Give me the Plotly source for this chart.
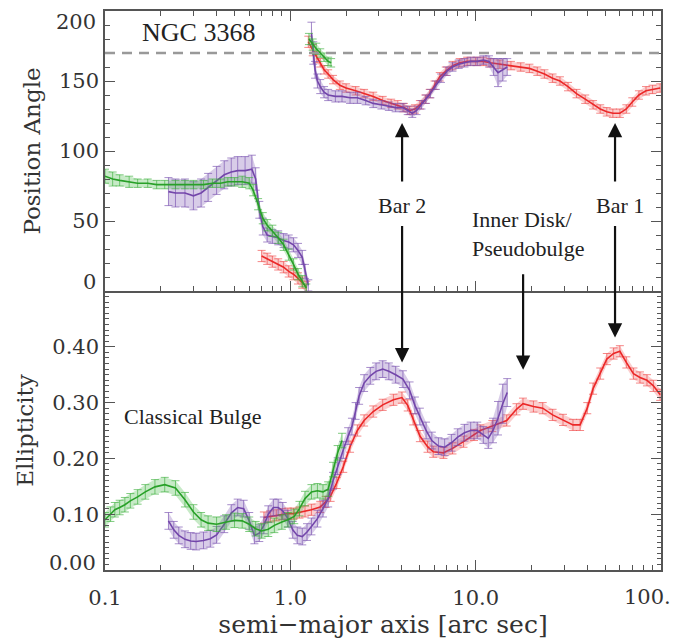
import plotly.graph_objects as go

# ---------------- DATA ----------------
# Position angle, green series (inner part, before the 0/180 wrap)
green_pa_a_r = [0.100, 0.110, 0.120, 0.135, 0.150, 0.17, 0.19, 0.21, 0.24, 0.27, 0.30, 0.34, 0.38,
                0.42, 0.46, 0.50, 0.55, 0.60, 0.63, 0.67, 0.71, 0.75, 0.80, 0.86, 0.92, 0.98,
                1.04, 1.10, 1.16, 1.22]
green_pa_a = [82, 80, 79, 78, 77, 77, 76, 76, 76, 76, 76, 76, 77,
              77, 78, 78, 78, 77, 72, 62, 52, 47, 43, 38, 33, 26,
              19, 12, 7, 2]
green_pa_a_err = [5, 5, 4, 4, 3, 3, 3, 3, 3, 3, 3, 3, 3,
                  3, 3, 3, 4, 4, 4, 4, 4, 4, 4, 4, 4, 4,
                  4, 4, 4, 3]
# green, after the wrap
green_pa_b_r = [1.26, 1.32, 1.38, 1.45, 1.52, 1.60, 1.66]
green_pa_b = [180, 176, 173, 170, 167, 164, 163]
green_pa_b_err = [4, 4, 4, 3, 3, 3, 3]

# purple, before the wrap
purple_pa_a_r = [0.22, 0.24, 0.27, 0.30, 0.33, 0.36, 0.40, 0.44, 0.48, 0.52, 0.57, 0.62,
                 0.65, 0.68, 0.71, 0.75, 0.80, 0.86, 0.92, 0.98, 1.04, 1.10, 1.16, 1.20, 1.25]
purple_pa_a = [71, 70, 70, 68, 70, 74, 79, 83, 85, 86, 86, 87,
               80, 58, 46, 40, 39, 38, 36, 35, 33, 29, 24, 14, 4]
purple_pa_a_err = [10, 10, 10, 10, 10, 10, 10, 10, 10, 10, 10, 10,
                   8, 6, 6, 5, 5, 5, 5, 5, 5, 5, 5, 5, 4]
# purple, after the wrap
purple_pa_b_r = [1.30, 1.33, 1.36, 1.40, 1.45, 1.52, 1.60, 1.75, 1.90, 2.10, 2.30, 2.55, 2.80,
                 3.10, 3.40, 3.70, 4.05, 4.30, 4.55, 4.80, 5.10, 5.40, 5.70, 6.10, 6.50,
                 7.00, 7.50, 8.10, 8.70, 9.40, 10.2, 11.0, 11.8, 12.5, 13.2, 14.0, 14.8]
purple_pa_b = [184, 170, 158, 150, 146, 142, 140, 139, 139, 138, 138, 136, 134,
               133, 132, 131, 131, 129, 127, 129, 133, 137, 141, 147, 152,
               157, 160, 162, 163, 164, 164, 165, 164, 160, 156, 158, 160]
purple_pa_b_err = [8, 8, 6, 5, 5, 4, 4, 4, 4, 4, 4, 3, 3,
                   3, 3, 3, 3, 3, 3, 3, 3, 3, 3, 3, 3,
                   3, 3, 3, 3, 3, 3, 3, 4, 6, 10, 8, 6]

# red, before the wrap
red_pa_a_r = [0.70, 0.75, 0.80, 0.86, 0.92, 0.98, 1.04, 1.10, 1.16, 1.22]
red_pa_a = [25, 23, 21, 19, 17, 14, 12, 9, 6, 3]
red_pa_a_err = [4, 4, 4, 4, 4, 4, 4, 4, 4, 4]
# red, after the wrap
red_pa_b_r = [1.25, 1.32, 1.39, 1.45, 1.52, 1.60, 1.70, 1.85, 2.00, 2.25, 2.50, 2.80, 3.15,
              3.50, 3.80, 4.10, 4.40, 4.70, 5.00, 5.35, 5.65, 6.00, 6.40, 6.90, 7.50,
              8.20, 9.00, 10.0, 11.0, 12.0, 13.5, 15.5, 17.5, 19.5, 21.5, 23.5, 26.0,
              28.5, 31.5, 35.0, 39.0, 43.0, 47.0, 51.0, 55.0, 60.0, 65.0, 70.0, 76.0,
              83.0, 90.0, 99.0]
red_pa_b = [178, 172, 167, 163, 158, 155, 151, 147, 145, 143, 141, 139, 136,
            134, 133, 131, 129, 130, 133, 137, 141, 147, 153, 157, 161,
            163, 164, 164, 164, 163, 162, 161, 160, 159, 157, 155, 152,
            150, 146, 141, 137, 133, 130, 128, 127, 127, 130, 135, 140,
            143, 144, 145]
red_pa_b_err = [4, 4, 4] + [3] * 49

# Ellipticity
green_ell_r = [0.100, 0.107, 0.113, 0.120, 0.128, 0.137, 0.150, 0.165, 0.186, 0.21, 0.24, 0.27,
               0.30, 0.33, 0.36, 0.40, 0.45, 0.50, 0.55, 0.60, 0.65, 0.70, 0.76, 0.82, 0.90,
               0.97, 1.05, 1.12, 1.20, 1.30, 1.40, 1.50, 1.60, 1.70, 1.80, 1.90]
green_ell = [0.090, 0.100, 0.108, 0.112, 0.117, 0.124, 0.131, 0.140, 0.149, 0.153, 0.147, 0.126,
             0.104, 0.090, 0.084, 0.082, 0.086, 0.089, 0.088, 0.082, 0.074, 0.070, 0.073, 0.080,
             0.086, 0.090, 0.096, 0.110, 0.128, 0.140, 0.142, 0.140, 0.145, 0.180, 0.210, 0.232]
green_ell_err = [0.013] * 36

purple_ell_r = [0.22, 0.235, 0.25, 0.27, 0.29, 0.31, 0.34, 0.37, 0.40, 0.44, 0.48, 0.52, 0.56,
                0.60, 0.64, 0.68, 0.72, 0.76, 0.81, 0.86, 0.91, 0.97, 1.03, 1.09, 1.16, 1.23,
                1.30, 1.40, 1.50, 1.60, 1.70, 1.80, 1.93, 2.05, 2.15, 2.25, 2.35, 2.50, 2.70,
                2.90, 3.15, 3.40, 3.70, 4.05, 4.40, 4.70, 5.00, 5.40, 5.80, 6.30, 6.80, 7.40,
                8.00, 8.70, 9.40, 10.2, 11.0, 11.7, 12.4, 13.2, 14.0, 14.8]
purple_ell = [0.088, 0.072, 0.062, 0.055, 0.052, 0.051, 0.053, 0.056, 0.063, 0.082, 0.102, 0.112,
              0.110, 0.088, 0.062, 0.066, 0.080, 0.100, 0.112, 0.112, 0.106, 0.092, 0.072, 0.062,
              0.060, 0.068, 0.078, 0.092, 0.110, 0.128, 0.160, 0.186, 0.215, 0.240, 0.257, 0.285,
              0.312, 0.335, 0.348, 0.356, 0.360, 0.356, 0.350, 0.342, 0.322, 0.295, 0.275, 0.250,
              0.232, 0.222, 0.220, 0.228, 0.238, 0.246, 0.250, 0.250, 0.242, 0.236, 0.250, 0.272,
              0.298, 0.318]
purple_ell_err = [0.015] * 56 + [0.015, 0.018, 0.022, 0.030, 0.035, 0.025]

red_ell_r = [0.72, 0.78, 0.84, 0.90, 0.97, 1.04, 1.12, 1.20, 1.30, 1.45, 1.55, 1.65, 1.78,
             1.93, 2.10, 2.30, 2.50, 2.80, 3.15, 3.60, 4.00, 4.30, 4.60, 5.00, 5.50, 5.90,
             6.70, 7.50, 8.60, 9.80, 10.6, 12.3, 14.7, 16.6, 18.0, 20.5, 23.0, 26.0, 29.6,
             33.5, 36.6, 40.0, 43.0, 47.0, 51.0, 55.5, 60.0, 65.0, 71.0, 77.0, 84.0, 91.0, 99.0]
red_ell = [0.094, 0.096, 0.098, 0.100, 0.101, 0.101, 0.103, 0.105, 0.108, 0.113, 0.122, 0.133,
           0.156, 0.185, 0.221, 0.250, 0.268, 0.284, 0.296, 0.305, 0.309, 0.295, 0.270, 0.240,
           0.221, 0.212, 0.210, 0.218, 0.230, 0.242, 0.250, 0.258, 0.268, 0.288, 0.298, 0.293,
           0.290, 0.278, 0.269, 0.260, 0.260, 0.290, 0.325, 0.352, 0.378, 0.388, 0.392, 0.372,
           0.352, 0.345, 0.340, 0.330, 0.314]
red_ell_err = [0.010] * 53

ref_pa = 170  # dashed reference position angle
x_ticks = [0.1, 1.0, 10.0, 100.0]
x_ticktext = ["0.1", "1.0", "10.0", ""]
pa_ticks = [0, 50, 100, 150, 200]
ell_ticks = [0.0, 0.1, 0.2, 0.3, 0.4, 0.5]

# ---------------- STYLE ----------------
COL = {
    "green": ("rgb(40,160,40)", "rgba(70,185,70,0.30)", "rgba(60,175,60,0.65)"),
    "purple": ("rgb(115,70,170)", "rgba(125,85,180,0.30)", "rgba(120,80,175,0.65)"),
    "red": ("rgb(235,40,40)", "rgba(240,80,80,0.28)", "rgba(240,70,70,0.65)"),
}
AXFONT = dict(family="DejaVu Serif", size=21, color="#333")
TXTFONT = dict(family="Liberation Serif, Times New Roman, serif", size=22, color="#222")

fig = go.Figure()


def add_series(r, v, e, key, xa, ya):
    line_c, band_c, bar_c = COL[key]
    hi = [a + b for a, b in zip(v, e)]
    lo = [a - b for a, b in zip(v, e)]
    fig.add_trace(go.Scatter(x=list(r) + list(r)[::-1], y=hi + lo[::-1], mode="lines",
                             fill="toself", fillcolor=band_c, line=dict(width=0),
                             hoverinfo="skip", showlegend=False, xaxis=xa, yaxis=ya))
    fig.add_trace(go.Scatter(x=r, y=v, mode="lines", line=dict(color=line_c, width=1.6),
                             error_y=dict(type="data", array=e, color=bar_c, thickness=1, width=4),
                             showlegend=False, xaxis=xa, yaxis=ya))


# top panel (position angle) on x2/y2
add_series(red_pa_a_r, red_pa_a, red_pa_a_err, "red", "x2", "y2")
add_series(red_pa_b_r, red_pa_b, red_pa_b_err, "red", "x2", "y2")
add_series(purple_pa_a_r, purple_pa_a, purple_pa_a_err, "purple", "x2", "y2")
add_series(purple_pa_b_r, purple_pa_b, purple_pa_b_err, "purple", "x2", "y2")
add_series(green_pa_a_r, green_pa_a, green_pa_a_err, "green", "x2", "y2")
add_series(green_pa_b_r, green_pa_b, green_pa_b_err, "green", "x2", "y2")
# bottom panel (ellipticity) on x/y
add_series(red_ell_r, red_ell, red_ell_err, "red", "x", "y")
add_series(purple_ell_r, purple_ell, purple_ell_err, "purple", "x", "y")
add_series(green_ell_r, green_ell, green_ell_err, "green", "x", "y")

minor_x = [k * 10 ** d for d in (-1, 0, 1) for k in range(2, 10)]
axis_common = dict(showline=True, linecolor="#555", linewidth=1.5,
                   ticks="inside", tickcolor="#555", tickwidth=1.3, showgrid=False, zeroline=False)
split = 279 / 559

fig.update_layout(
    width=675, height=641, margin=dict(l=105, r=14, t=11, b=71, autoexpand=False),
    paper_bgcolor="white", plot_bgcolor="white", showlegend=False,
    xaxis=dict(type="log", range=[-1, 2], anchor="y", domain=[0, 1], mirror=False,
               tickvals=x_ticks, ticktext=x_ticktext, ticklen=10, tickfont=AXFONT,
               ticklabelstandoff=8,
               minor=dict(tickvals=minor_x, ticks="inside", ticklen=5, tickcolor="#555", showgrid=False),
               title=dict(text="semi−major axis [arc sec]", font=dict(family="DejaVu Serif", size=25, color="#333"),
                          standoff=4),
               **axis_common),
    yaxis=dict(range=[0, 0.5], domain=[0, split], anchor="x", mirror="allticks",
               tickvals=ell_ticks, ticktext=["", "0.10", "0.20", "0.30", "0.40", ""],
               ticklen=10, tickfont=AXFONT,
               minor=dict(dtick=0.01, ticks="inside", ticklen=4, tickcolor="#555", showgrid=False),
               title=dict(text="Ellipticity", font=dict(family="DejaVu Serif", size=23, color="#333"),
                          standoff=12),
               **axis_common),
    xaxis2=dict(type="log", range=[-1, 2], anchor="y2", domain=[0, 1], matches="x", mirror="allticks",
                tickvals=x_ticks, showticklabels=False, ticklen=10,
                minor=dict(tickvals=minor_x, ticks="inside", ticklen=5, tickcolor="#555", showgrid=False),
                **axis_common),
    yaxis2=dict(range=[0, 200], domain=[split, 1], anchor="x2", mirror="allticks",
                tickvals=pa_ticks, ticktext=["", "50", "100", "150", ""], ticklen=10, tickfont=AXFONT,
                minor=dict(dtick=10, ticks="inside", ticklen=5, tickcolor="#555", showgrid=False),
                title=dict(text="Position Angle", font=dict(family="DejaVu Serif", size=23, color="#333"),
                           standoff=12),
                **axis_common),
)

# dashed reference line
fig.add_shape(type="line", xref="x2 domain", yref="y2", x0=0, x1=1, y0=ref_pa, y1=ref_pa,
              line=dict(color="#999", width=2.5, dash="10px,7px"))

# end tick labels that sit inside the frame in the reference
for txt, yp in [("200", (570 - 22) / 559), ("0", (570 - 282) / 559), ("0.00", (570 - 563) / 559)]:
    fig.add_annotation(text=txt, xref="paper", yref="paper", x=0, y=yp, xanchor="right",
                       yanchor="middle", xshift=-7, showarrow=False, font=AXFONT)
# last x tick label, kept inside the page at its right edge
fig.add_annotation(text="100.", xref="paper", yref="paper", x=1, y=(570 - 597) / 559,
                   xanchor="right", yanchor="middle", xshift=12, showarrow=False, font=AXFONT)

# text labels
fig.add_annotation(text="NGC 3368", xref="x2", yref="y2", x=-0.498, y=184.3, showarrow=False,
                   font=dict(family=TXTFONT["family"], size=26, color="#222"))
fig.add_annotation(text="Bar 2", xref="x2", yref="y2", x=0.603, y=61.4, showarrow=False, font=TXTFONT)
fig.add_annotation(text="Bar 1", xref="x2", yref="y2", x=1.779, y=61.4, showarrow=False, font=TXTFONT)
fig.add_annotation(text="Inner Disk/<br>Pseudobulge", xref="x2", yref="y2", x=0.970, y=40.7,
                   xanchor="left", align="left", showarrow=False, font=TXTFONT)
fig.add_annotation(text="Classical Bulge", xref="x", yref="y", x=-0.5305, y=0.2747, showarrow=False,
                   font=dict(family=TXTFONT["family"], size=22, color="#222"))

# arrows (head position in data coordinates, tail offset in pixels)
arrow_style = dict(showarrow=True, arrowhead=2, arrowsize=1.3, arrowwidth=2.2, arrowcolor="#111",
                   text="", ax=0)
fig.add_annotation(xref="x2", yref="y2", x=0.603, y=120, ay=60, **arrow_style)
fig.add_annotation(xref="x", yref="y", x=0.603, y=0.372, ay=-138, **arrow_style)
fig.add_annotation(xref="x", yref="y", x=1.256, y=0.359, ay=-97, **arrow_style)
fig.add_annotation(xref="x2", yref="y2", x=1.752, y=120, ay=60, **arrow_style)
fig.add_annotation(xref="x", yref="y", x=1.752, y=0.4165, ay=-113, **arrow_style)

fig.write_html("out.html")
